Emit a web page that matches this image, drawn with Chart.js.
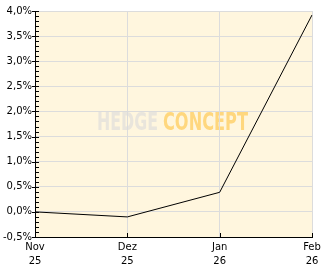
<!DOCTYPE html>
<html>
<head>
<meta charset="utf-8">
<script src="https://cdn.jsdelivr.net/npm/chart.js@4/dist/chart.umd.min.js"></script>
<style>
html,body{margin:0;padding:0;background:#fff;}
#wrap{width:332px;height:269px;position:relative;}
</style>
</head>
<body>
<div id="wrap"><canvas id="c" width="332" height="269"></canvas></div>
<script>
const categories = [['Nov','25'],['Dez','25'],['Jan','26'],['Feb','26']];
const seriesValues = [0.0, -0.1, 0.39, 3.92];
const yMin = -0.5, yMax = 4.0, yStep = 0.5, yMinorStep = 0.1;

const fmt = v => v.toFixed(1).replace('.', ',') + '%';

const plugin = {
  id: 'deco',
  beforeDraw(chart) {
    const {ctx, chartArea: a} = chart;
    ctx.save();
    ctx.fillStyle = '#FFF6DE';
    ctx.fillRect(a.left, a.top, a.right - a.left, a.bottom - a.top);
    // watermark
    const cx = (a.left + a.right) / 2;
    const cy = (a.top + a.bottom) / 2;
    ctx.font = 'bold 24px "DejaVu Sans Condensed", "DejaVu Sans", sans-serif';
    ctx.textBaseline = 'middle';
    const w1 = ctx.measureText('HEDGE').width;
    const w2 = ctx.measureText('CONCEPT').width;
    const sx1 = 61 / w1, sx2 = 85 / w2;
    const gap = 5;
    const total = 61 + gap + 85;
    const x0 = cx - total / 2 - 1;
    ctx.save();
    ctx.translate(x0, cy);
    ctx.scale(sx1, 1);
    ctx.fillStyle = '#E9E5DC';
    ctx.fillText('HEDGE', 0, 0);
    ctx.restore();
    ctx.save();
    ctx.translate(x0 + 61 + gap, cy);
    ctx.scale(sx2, 1);
    ctx.fillStyle = '#FFD77E';
    ctx.fillText('CONCEPT', 0, 0);
    ctx.restore();
    ctx.restore();
  },
  afterDraw(chart) {
    const {ctx, chartArea: a, scales} = chart;
    const y = scales.y, x = scales.x;
    ctx.save();
    ctx.strokeStyle = '#000';
    ctx.lineWidth = 1;
    ctx.beginPath();
    const n = Math.round((yMax - yMin) / yMinorStep);
    for (let i = 0; i <= n; i++) {
      const v = yMin + i * yMinorStep;
      const py = Math.round(y.getPixelForValue(v)) + 0.5;
      ctx.moveTo(a.left, py);
      ctx.lineTo(a.left + 4, py);
    }
    const m = Math.round((yMax - yMin) / yStep);
    for (let i = 0; i <= m; i++) {
      const v = yMin + i * yStep;
      const py = Math.round(y.getPixelForValue(v)) + 0.5;
      ctx.moveTo(a.left - 3, py);
      ctx.lineTo(a.left, py);
    }
    for (let i = 0; i < categories.length; i++) {
      const px = Math.round(x.getPixelForValue(i)) + 0.5;
      ctx.moveTo(px, a.bottom);
      ctx.lineTo(px, a.bottom - 4);
    }
    ctx.stroke();
    ctx.restore();
  }
};

new Chart(document.getElementById('c'), {
  type: 'line',
  data: {
    labels: categories,
    datasets: [{
      data: seriesValues,
      borderColor: '#000',
      borderWidth: 1,
      pointRadius: 0,
      tension: 0,
      fill: false
    }]
  },
  options: {
    responsive: false,
    animation: false,
    devicePixelRatio: 1,
    layout: {padding: {top: 11, right: 20, left: 0, bottom: 0}},
    plugins: {legend: {display: false}, tooltip: {enabled: false}},
    scales: {
      x: {
        type: 'category',
        offset: false,
        grid: {color: '#DCDCDC', lineWidth: 1, drawTicks: false},
        border: {color: '#000', width: 1},
        ticks: {color: '#000', padding: 3, maxRotation: 0, autoSkip: false,
          font: {family: '"DejaVu Sans", Verdana, sans-serif', size: 10, lineHeight: 1.45}},
        afterFit(s) { s.height = 32; }
      },
      y: {
        min: yMin, max: yMax,
        grid: {color: '#DCDCDC', lineWidth: 1, drawTicks: false},
        border: {color: '#000', width: 1},
        ticks: {stepSize: yStep, color: '#000', padding: 3,
          font: {family: '"DejaVu Sans", Verdana, sans-serif', size: 10},
          callback: v => fmt(v)},
        afterFit(s) { s.width = 35; }
      }
    }
  },
  plugins: [plugin]
});
</script>
</body>
</html>
